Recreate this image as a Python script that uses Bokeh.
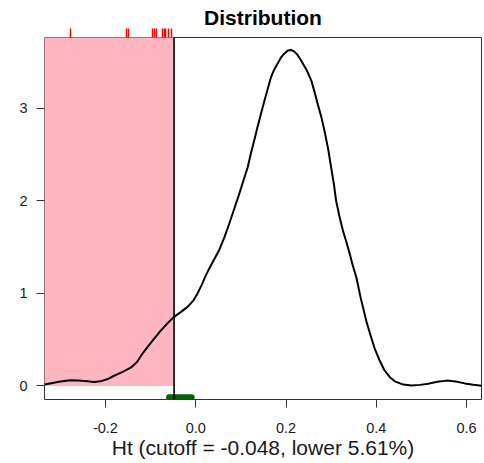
from bokeh.plotting import figure
from bokeh.models import Range1d, LinearAxis, FixedTicker, Span, ColumnDataSource, NumeralTickFormatter
from bokeh.embed import file_html
from bokeh.resources import INLINE

# Density curve
dens_x = [-0.345, -0.335, -0.32, -0.30, -0.278, -0.26, -0.24, -0.225, -0.211, -0.195, -0.182, -0.163,
          -0.144, -0.13, -0.119, -0.107, -0.096, -0.078, -0.064, -0.050, -0.034, -0.018, -0.005,
          0.004, 0.013, 0.022, 0.030, 0.041, 0.052, 0.063, 0.074, 0.085, 0.096, 0.105, 0.115,
          0.122, 0.130, 0.137, 0.145, 0.152, 0.160, 0.167, 0.174, 0.181, 0.189, 0.196, 0.204,
          0.211, 0.218, 0.225, 0.233, 0.245, 0.256, 0.263, 0.270, 0.278, 0.285, 0.293, 0.300,
          0.306, 0.311, 0.318, 0.326, 0.334, 0.341, 0.348, 0.356, 0.365, 0.378, 0.387, 0.396,
          0.407, 0.418, 0.43, 0.441, 0.46, 0.478, 0.497, 0.515, 0.535, 0.556, 0.576, 0.596,
          0.615, 0.633, 0.645]
dens_y = [0.005, 0.015, 0.03, 0.048, 0.062, 0.06, 0.05, 0.042, 0.05, 0.075, 0.108, 0.15,
          0.198, 0.26, 0.343, 0.42, 0.487, 0.595, 0.67, 0.739, 0.795, 0.855, 0.925,
          1.00, 1.09, 1.19, 1.27, 1.37, 1.47, 1.60, 1.75, 1.91, 2.07, 2.21, 2.36,
          2.51, 2.66, 2.80, 2.95, 3.08, 3.22, 3.34, 3.42, 3.48, 3.55, 3.59, 3.625,
          3.63, 3.615, 3.58, 3.52, 3.42, 3.30, 3.18, 3.05, 2.91, 2.76, 2.57, 2.36,
          2.18, 2.00, 1.84, 1.68, 1.55, 1.43, 1.30, 1.17, 0.96, 0.70, 0.55, 0.41,
          0.28, 0.17, 0.095, 0.05, 0.015, 0.004, 0.012, 0.025, 0.045, 0.058, 0.048, 0.028,
          0.013, 0.003, 0.0]

# Rug of observations below the cutoff
rug_x = [-0.277, -0.154, -0.150, -0.096, -0.091, -0.087, -0.074, -0.070, -0.067, -0.060, -0.053]

cutoff = -0.048
ci_low, ci_high = -0.059, -0.009

x_ticks = [-0.2, 0.0, 0.2, 0.4, 0.6]
y_ticks = [0, 1, 2, 3]
x_lim = (-0.335, 0.633)
y_lim = (-0.146, 3.765)

title_text = "Distribution"
x_label = "Ht (cutoff = -0.048, lower 5.61%)"

FONT = "Liberation Sans"
TXT = "#1a1a1a"

p = figure(width=484, height=463, output_backend="svg", toolbar_location=None,
           x_range=Range1d(*x_lim), y_range=Range1d(*y_lim),
           min_border_left=44, min_border_right=3, min_border_top=37, min_border_bottom=64)
p.background_fill_color = "white"
p.border_fill_color = "white"
p.outline_line_color = "#333333"
p.outline_line_width = 1
p.xgrid.visible = False
p.ygrid.visible = False

# shaded lower region
p.quad(left=[x_lim[0] - 0.05], right=[cutoff], bottom=[0], top=[y_lim[1] + 0.5],
       fill_color="#FFB6C1", line_color=None)

# density
p.line(dens_x, dens_y, line_color="black", line_width=2, line_join="round")

# cutoff
p.add_layout(Span(location=cutoff, dimension="height", line_color="black", line_width=1.6))

# interval of cutoff (sits on the bottom edge of the box)
ci_y = y_lim[0] + 0.025
ci_src = ColumnDataSource(dict(x0=[ci_low], x1=[ci_high], y0=[ci_y], y1=[ci_y]))
p.segment(x0="x0", y0="y0", x1="x1", y1="y1", source=ci_src,
          line_color="#006400", line_width=6, line_cap="round")

# axes
xa = p.xaxis[0]
xa.ticker = FixedTicker(ticks=x_ticks)
xa.formatter = NumeralTickFormatter(format="0.0")
ya = p.yaxis[0]
ya.ticker = FixedTicker(ticks=y_ticks)
ya.formatter = NumeralTickFormatter(format="0")
for ax in (xa, ya):
    ax.axis_line_color = None
    ax.minor_tick_line_color = None
    ax.major_tick_in = 0
    ax.major_tick_out = 8
    ax.major_tick_line_color = "#333333"
    ax.major_label_text_font = FONT
    ax.major_label_text_font_size = "14.5px"
    ax.major_label_text_color = TXT
xa.major_label_standoff = 15
ya.major_label_standoff = 9
xa.axis_label = x_label
xa.axis_label_text_font = FONT
xa.axis_label_text_font_size = "21px"
xa.axis_label_text_font_style = "normal"
xa.axis_label_text_color = TXT
xa.axis_label_standoff = 0

# rug on top
rug_axis = LinearAxis(ticker=FixedTicker(ticks=rug_x))
rug_axis.axis_line_color = None
rug_axis.minor_tick_line_color = None
rug_axis.major_tick_in = 0
rug_axis.major_tick_out = 9
rug_axis.major_tick_line_color = "red"
rug_axis.major_tick_line_width = 1.5
rug_axis.major_label_text_font_size = "0px"
rug_axis.major_label_text_color = None
rug_axis.major_label_standoff = 0
p.add_layout(rug_axis, "above")

p.title.text = title_text
p.title.align = "center"
p.title.text_font = FONT
p.title.text_font_size = "21px"
p.title.text_font_style = "bold"
p.title.text_color = "black"
p.title.standoff = 0
p.title.offset = 0

open("out.html", "w").write(file_html(p, INLINE))
